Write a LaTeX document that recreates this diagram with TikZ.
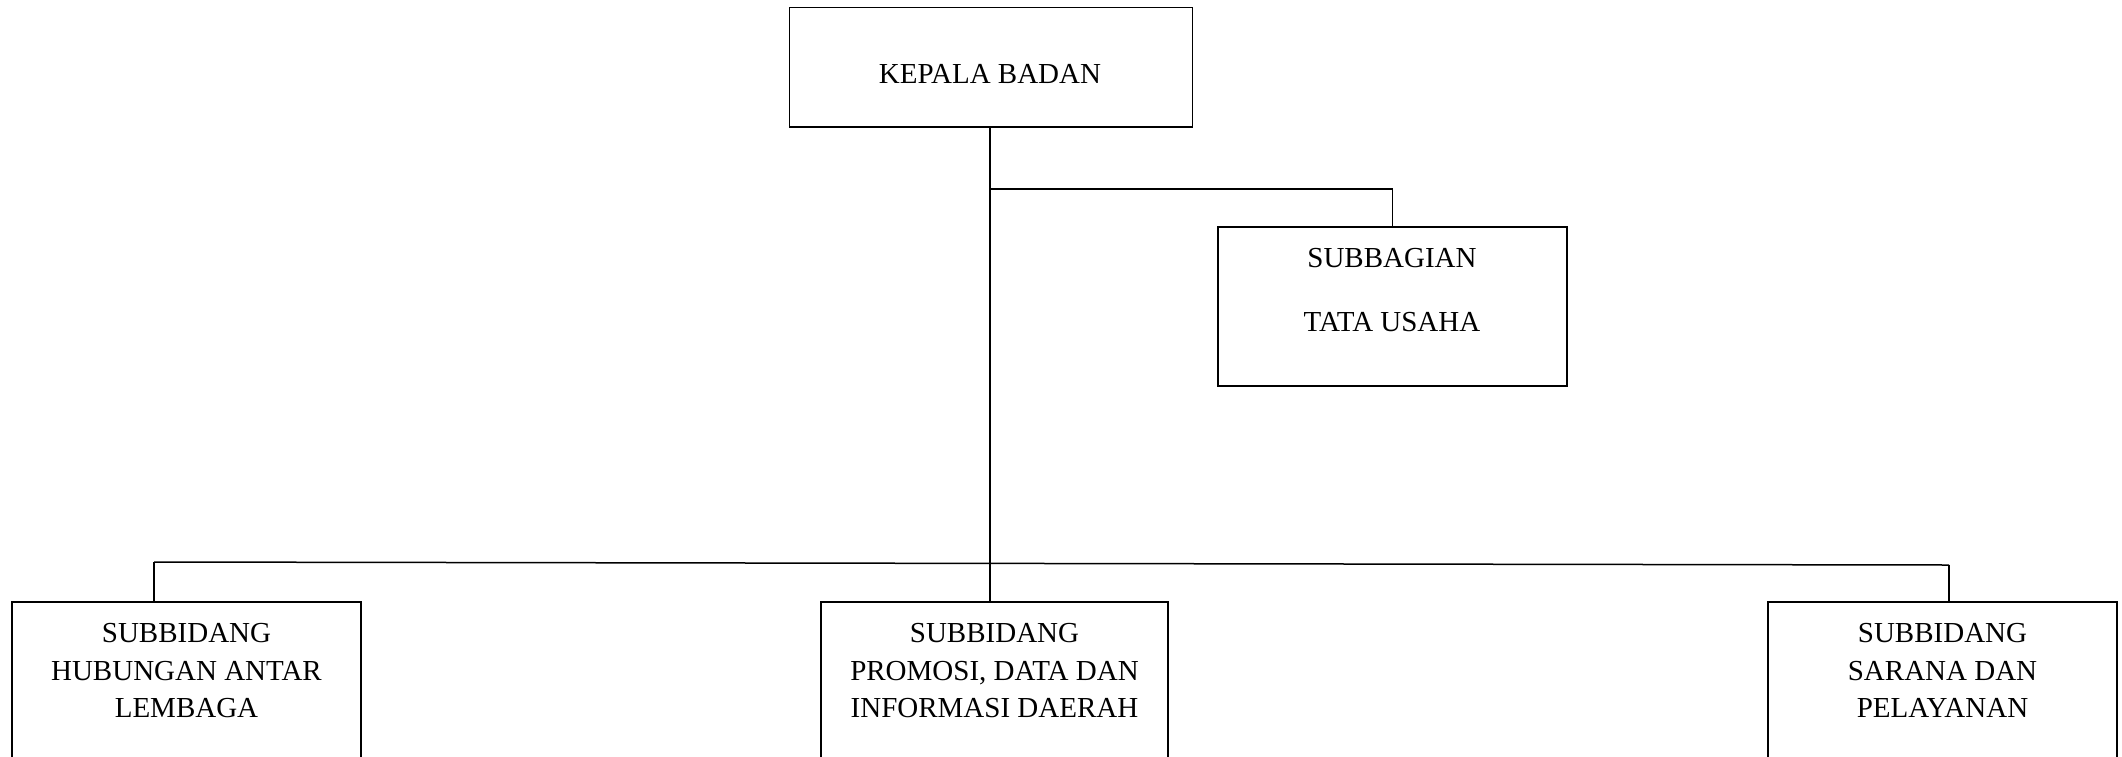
\documentclass[tikz,border=0pt]{standalone}
\usepackage{fontspec}
\setmainfont{Liberation Serif}
\begin{document}
\begin{tikzpicture}[x=1pt,y=-1pt,
  line width=1.5pt,
  box/.style={draw, rectangle, inner sep=0pt, line width=1.5pt},
  lbl/.style={font=\fontsize{29}{37.5}\selectfont, align=center, inner sep=0pt}]
\useasboundingbox (0,0) rectangle (2122,756);
\clip (0,0) rectangle (2122,756);
% boxes
\node[box, minimum width=403pt, minimum height=119.5pt] (kepala) at (991,67.25) {};
\node[box, minimum width=349pt, minimum height=159pt] (sub) at (1392.5,306.5) {};
\node[box, minimum width=349pt, minimum height=180pt] (left) at (186.5,692) {};
\node[box, minimum width=347pt, minimum height=180pt] (mid) at (994.5,692) {};
\node[box, minimum width=349pt, minimum height=180pt] (right) at (1942.5,692) {};
% texts
\node[lbl, anchor=base] (tk) at (990,83) {KEPALA BADAN};
\node[lbl, anchor=north] (ts) at (1392,248) {SUBBAGIAN\\[26pt]TATA USAHA};
\node[lbl, anchor=north] (tl) at (186.5,623) {SUBBIDANG\\HUBUNGAN ANTAR\\LEMBAGA};
\node[lbl, anchor=north] (tm) at (994.5,623) {SUBBIDANG\\PROMOSI, DATA DAN\\INFORMASI DAERAH};
\node[lbl, anchor=north] (tr) at (1942.5,623) {SUBBIDANG\\SARANA DAN\\PELAYANAN};
% connectors
\coordinate (trunk) at (990,127);
\coordinate (busL) at (154,562);
\coordinate (busR) at (1949,565);
\draw (trunk) -- (trunk |- mid.north);
\draw (trunk |- 0,189) -| (sub.north);
\draw (busL) -- (busR);
\draw (busL) -- (busL |- left.north);
\draw (busR) -- (busR |- right.north);
\end{tikzpicture}
\end{document}
